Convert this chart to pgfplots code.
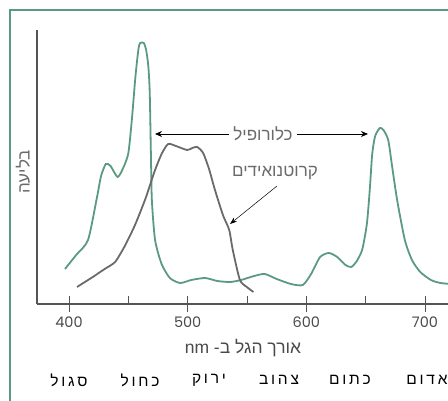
\documentclass[border=0pt]{standalone}
\usepackage{pgfplots}
\pgfplotsset{compat=1.18}
\usepackage{fontspec}
\setmainfont{Liberation Sans}
\newfontfamily\heb[Script=Hebrew]{Liberation Sans}
\newfontfamily\hebsp[Script=Hebrew,LetterSpace=18]{Liberation Sans}
\newfontfamily\numfont{Poppins}
\TeXXeTstate=1
\usetikzlibrary{arrows.meta}
\definecolor{chl}{HTML}{5A9A80}
\definecolor{car}{HTML}{6A6A6A}
\definecolor{ax}{HTML}{555555}
\definecolor{txt}{HTML}{4A4A4A}
\begin{document}
\begin{tikzpicture}[x=1pt,y=1pt]
\useasboundingbox (0,0) rectangle (448,401);
\clip (0,0) rectangle (448,401);
\draw[chl, line width=2pt] (10,-20) -- (10,391) -- (470,391);
\begin{axis}[
  at={(37pt,97pt)}, anchor=south west,
  scale only axis, width=423.6pt, height=274pt,
  xmin=373, xmax=730, ymin=0, ymax=274,
  axis lines=left, axis line style={-, ax, line width=1.2pt},
  xtick={400,500,600,700}, ytick=\empty,
  tick align=center, major tick length=16pt,
  tick style={ax, line width=1pt},
  /pgf/number format/assume math mode=true,
  xticklabel style={font=\numfont\fontsize{14.5}{14.5}\selectfont, text=txt, yshift=-1pt},
  clip=false,
]
\addplot[chl, line width=1.8pt, smooth, tension=0.4] coordinates {
(396.6,35) (406,49) (416,64) (423.6,107) (427,128) (431,140) (435,138) (441,127)
(446,137) (450,151) (453,185) (456,228) (458.5,255) (460,261) (463,261) (465,254)
(466.8,238) (468,212) (469,150) (469.8,104) (472.5,64) (478,40) (485,26) (493.6,21)
(503,24) (514.7,26) (525,23) (535.8,22) (545,24) (556,28) (565,30) (575,25) (587,20)
(597,19) (604,30) (611.6,47) (619,51) (626,47) (633,39) (637.8,37) (642,42) (647,54)
(651,80) (653.5,115) (655.5,150) (658,168) (662,176) (665,174) (669,164) (672,140)
(676.5,104) (683,64) (689,44) (696,32) (705,24) (713,21) (722,20)
};
\addplot[car, line width=1.8pt, smooth, tension=0.4] coordinates {
(406.7,17) (420,27) (430,35) (438.8,42) (447,58) (455.6,79) (464,104) (468,118)
(472.5,134) (478,150) (483.5,160) (490,158) (499.5,154) (504,156) (508,157) (513,151)
(518,135) (522,118) (525.6,104) (530,88) (535,74) (538,54) (544,24) (549.8,17) (555.4,12)
};
\draw[ax, line width=1pt] (axis cs:450,0) -- (axis cs:450,8);
\draw[ax, line width=1pt] (axis cs:550,0) -- (axis cs:550,8);
\draw[ax, line width=1pt] (axis cs:650,0) -- (axis cs:650,8);
\end{axis}
\node[rotate=90, text=car] at (23,229) {\heb\fontsize{17}{17}\selectfont\beginR בליעה\endR};
\draw[black, line width=0.8pt, {Stealth[length=7pt,width=6pt]}-{Stealth[length=7pt,width=6pt]}] (155,267) -- (368,267);
\node[fill=white, inner xsep=4pt, inner ysep=1pt, text=car] at (263,267) {\heb\fontsize{17}{17}\selectfont\beginR כלורופיל\endR};
\node[text=car] at (275,228) {\heb\fontsize{17}{17}\selectfont\beginR קרוטנואידים\endR};
\draw[black, line width=0.5pt, -{Stealth[length=7pt,width=5pt]}] (277,215) -- (230,177);
\node[text=txt] at (243,53) {\heb\fontsize{17.5}{17.5}\selectfont\beginR אורך הגל ב- \beginL nm\endL\endR};
\foreach \x/\w in {69/סגול,140/כחול,209/ירוק,279/צהוב,350/כתום,427/אדום}
  \node[text=black] at (\x,21) {\hebsp\fontsize{15.5}{15.5}\selectfont\beginR \w\endR};
\end{tikzpicture}
\end{document}
